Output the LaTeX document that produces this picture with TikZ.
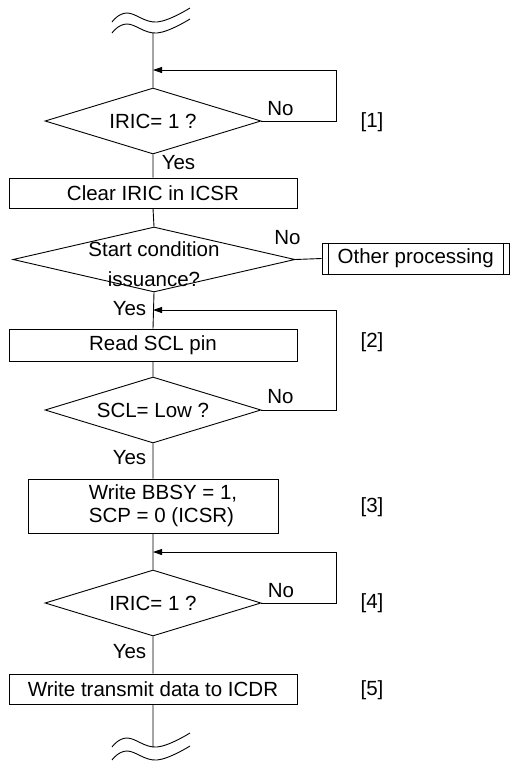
\documentclass[tikz,border=0pt]{standalone}
\usepackage{fontspec}
\setmainfont{Liberation Sans}
\usetikzlibrary{shapes.geometric,arrows.meta}

\begin{document}
\begin{tikzpicture}[x=1pt,y=-1pt,line width=0.9pt,
    font=\fontsize{20.5}{23}\selectfont,
    procbox/.style={draw,rectangle,inner sep=0pt,minimum height=30pt},
    decision/.style={draw,diamond,inner sep=0pt,minimum width=216pt,minimum height=66pt},
    back/.style={line width=0.8pt,-{Triangle[length=9pt,width=6pt]}}]
    \useasboundingbox (0,0) rectangle (510,764);
    \foreach \v in {22,33,747,760}
        \draw plot[smooth,tension=0.7] coordinates {(112,\v) (127,{\v-9}) (157,\v) (190,{\v-14})};
    \coordinate (top) at (153,33);
    \coordinate (bot) at (153,747);
    \coordinate (j1) at (153,70);
    \coordinate (j2) at (153,310);
    \coordinate (j4) at (153,552);
    \node[decision] (d1) at (153,121) {};
    \node (t1) at (d1) {IRIC= 1 ?};
    \node[procbox,minimum width=288pt] (b1) at (153,193) {Clear IRIC in ICSR};
    \node[decision,minimum width=282pt,minimum height=65pt] (d2) at (154,259.5) {};
    \node[align=center] (t2) at (154,264) {Start condition\\[7pt]issuance?};
    \node[procbox,minimum width=187.5pt,minimum height=31pt] (other) at (415.75,258.5) {Other processing};
    \node[procbox,minimum width=288pt,minimum height=32pt] (b2) at (153,345) {Read SCL pin};
    \node[decision] (d3) at (153,410) {};
    \node (t3) at (d3) {SCL= Low ?};
    \node[procbox,minimum width=250pt,minimum height=54pt] (b3) at (153,506) {};
    \node[align=left] (t4) at ([xshift=10pt]b3.center) {Write BBSY = 1,\\SCP = 0 (ICSR)};
    \node[decision] (d4) at (153,603) {};
    \node (t5) at (d4) {IRIC= 1 ?};
    \node[procbox,minimum width=288pt] (b5) at (153,689) {Write transmit data to ICDR};
    \draw (top) -- (d1.north) (d1.south) -- (b1.north) (b1.south) -- (d2.north)
        (d2.south) -- (b2.north) (b2.south) -- (d3.north) (d3.south) -- (b3.north)
        (b3.south) -- (d4.north) (d4.south) -- (b5.north) (b5.south) -- (bot);
    \draw (d2.east) -- (other.west);
    \draw ([xshift=7pt]other.north west) -- ([xshift=7pt]other.south west)
        ([xshift=-7pt]other.north east) -- ([xshift=-7pt]other.south east);
    \draw[back] (d1.east) -- ++(75,0) |- (j1);
    \draw[back] (d3.east) -- ++(75,0) |- (j2);
    \draw[back] (d4.east) -- ++(75,0) |- (j4);
    \node (no1) at (280.5,109) {No};
    \node (no2) at (287.5,238) {No};
    \node (no3) at (280.5,397) {No};
    \node (no4) at (281,591) {No};
    \node (yes1) at (178.5,163) {Yes};
    \node (yes2) at (129.5,309) {Yes};
    \node (yes3) at (129.5,458) {Yes};
    \node (yes4) at (129.5,652) {Yes};
    \node (n1) at (372,122) {[1]};
    \node (n2) at (372,342) {[2]};
    \node (n3) at (372,507) {[3]};
    \node (n4) at (372,603) {[4]};
    \node (n5) at (372,690) {[5]};
\end{tikzpicture}
\end{document}
